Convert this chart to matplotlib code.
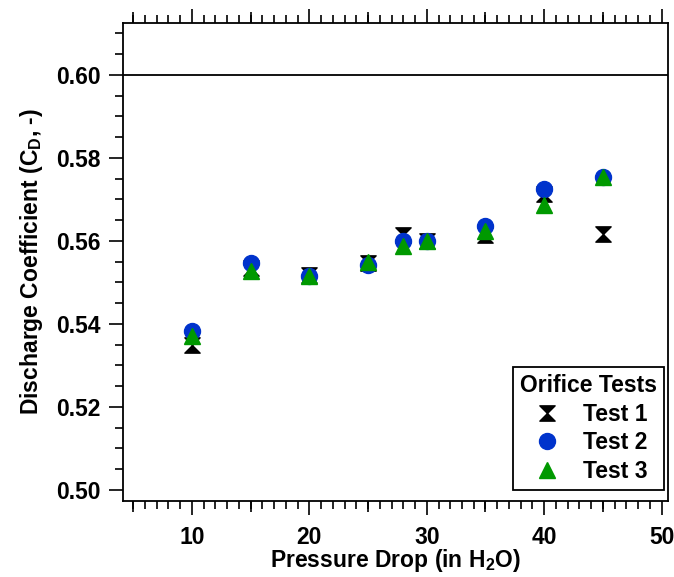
import matplotlib
matplotlib.use("Agg")
import matplotlib.pyplot as plt
from matplotlib.path import Path
from matplotlib.ticker import MultipleLocator, FixedLocator, FormatStrFormatter, NullFormatter

plt.rcParams["font.family"] = ["Liberation Sans", "DejaVu Sans"]
plt.rcParams["font.weight"] = "bold"
plt.rcParams["mathtext.fontset"] = "custom"
plt.rcParams["mathtext.bf"] = "Liberation Sans:bold"
plt.rcParams["mathtext.rm"] = "Liberation Sans:bold"
plt.rcParams["mathtext.default"] = "bf"

# data
pressure = [10, 15, 20, 25, 28, 30, 35, 40, 45]
test1 = [0.5349, 0.5535, 0.5517, 0.5546, 0.5614, 0.5601, 0.5615, 0.5713, 0.5617]
test2 = [0.5384, 0.5546, 0.5516, 0.5543, 0.5600, 0.5601, 0.5636, 0.5725, 0.5755]
test3 = [0.5371, 0.5528, 0.5516, 0.5549, 0.5588, 0.5600, 0.5624, 0.5686, 0.5754]
ideal_cd = 0.60

# hourglass marker
hourglass = Path([(-1, 1), (1, 1), (0, 0), (1, -1), (-1, -1), (0, 0), (-1, 1)],
                 [Path.MOVETO] + [Path.LINETO] * 5 + [Path.CLOSEPOLY])

fig = plt.figure(figsize=(6.74, 5.77), dpi=100)
ax = fig.add_axes([0.182, 0.1322, 0.809, 0.8285])

ax.axhline(ideal_cd, color="black", lw=1.3)
ax.plot(pressure, test1, ls="none", marker=hourglass, ms=11, color="black", label="Test 1")
ax.plot(pressure, test2, ls="none", marker="o", ms=11.5, color="#0033cc", label="Test 2")
ax.plot(pressure, test3, ls="none", marker="^", ms=11.5, color="#009900", label="Test 3")

ax.set_xlim(4.1, 50.54)
ax.set_ylim(0.4974, 0.6126)

ax.xaxis.set_major_locator(MultipleLocator(10))
ax.xaxis.set_minor_locator(MultipleLocator(1))
ax.yaxis.set_major_locator(MultipleLocator(0.02))
ax.yaxis.set_minor_locator(MultipleLocator(0.005))
ax.yaxis.set_major_formatter(FormatStrFormatter("%.2f"))

ax.tick_params(axis="x", which="both", direction="out", top=True, bottom=True, labeltop=False)
ax.tick_params(axis="y", which="both", direction="out", left=True, right=False)
ax.tick_params(which="major", length=10, width=1.2, labelsize=16.5)
ax.tick_params(axis="x", which="major", pad=8)
ax.tick_params(axis="y", which="major", pad=6)
ax.tick_params(which="minor", length=5.5, width=1.2)
for sp in ax.spines.values():
    sp.set_linewidth(1.3)

# medium ticks at the fives, top and bottom
for side in ("bottom", "top"):
    sec = ax.secondary_xaxis(side)
    sec.xaxis.set_major_locator(FixedLocator([5, 15, 25, 35, 45]))
    sec.xaxis.set_major_formatter(NullFormatter())
    sec.tick_params(direction="out", length=8, width=1.2)
    sec.spines[side].set_visible(False)

ax.set_xlabel("Pressure Drop (in H$_2$O)", fontsize=16.5, fontweight="bold", labelpad=-1)
ax.set_ylabel("Discharge Coefficient (C$_D$, -)", fontsize=16.5, fontweight="bold", labelpad=8)

leg = ax.legend(title="Orifice Tests", loc="lower right", fontsize=16.5,
                bbox_to_anchor=(1 - 4 / 545, 10.7 / 478), borderaxespad=0,
                title_fontproperties={"weight": "bold", "size": 16.5},
                fancybox=False, framealpha=1, edgecolor="black",
                handletextpad=0.8, labelspacing=0.25,
                borderpad=0.3, handlelength=1.5)
leg.get_frame().set_linewidth(1.3)

fig.savefig("out.png", dpi=100)
